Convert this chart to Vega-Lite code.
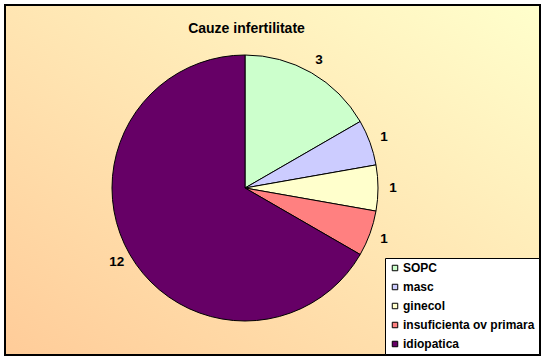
{
  "$schema": "https://vega.github.io/schema/vega-lite/v6.json",
  "width": 535,
  "height": 350,
  "autosize": {"type": "none"},
  "padding": {"left": 5, "top": 5, "right": 7, "bottom": 6},
  "background": "white",
  "title": {
    "text": "Cauze infertilitate",
    "font": "Liberation Sans",
    "fontSize": 14,
    "fontWeight": "bold",
    "color": "black",
    "anchor": "middle",
    "frame": "group",
    "orient": "top",
    "baseline": "alphabetic",
    "offset": 0,
    "dx": -26,
    "dy": 43
  },
  "config": {"view": {"stroke": null}},
  "layer": [
    {
      "data": {"values": [{"frame": "chart"}]},
      "mark": {
        "type": "rect",
        "stroke": "black",
        "strokeWidth": 2,
        "color": {
          "gradient": "linear",
          "x1": 0, "y1": 1, "x2": 1, "y2": 0,
          "stops": [
            {"offset": 0, "color": "#FFCC99"},
            {"offset": 1, "color": "#FFFFCC"}
          ]
        }
      },
      "encoding": {}
    },
    {
      "data": {"values": [
        {"cause": "SOPC", "value": 3, "order": 1},
        {"cause": "masc", "value": 1, "order": 2},
        {"cause": "ginecol", "value": 1, "order": 3},
        {"cause": "insuficienta ov primara", "value": 1, "order": 4},
        {"cause": "idiopatica", "value": 12, "order": 5}
      ]},
      "layer": [
        {
          "mark": {"type": "arc", "x": 240, "y": 183, "outerRadius": 133, "stroke": "black", "strokeWidth": 1},
          "encoding": {
            "theta": {"field": "value", "type": "quantitative", "stack": true},
            "order": {"field": "order", "type": "quantitative"},
            "color": {
              "field": "cause",
              "type": "nominal",
              "sort": null,
              "scale": {
                "domain": ["SOPC", "masc", "ginecol", "insuficienta ov primara", "idiopatica"],
                "range": ["#CCFFCC", "#CCCCFF", "#FFFFCC", "#FF8080", "#660066"]
              },
              "legend": {
                "title": null,
                "orient": "none",
                "legendX": 380,
                "legendY": 253,
                "direction": "vertical",
                "fillColor": "white",
                "strokeColor": "black",
                "padding": 4,
                "symbolType": "square",
                "symbolSize": 30,
                "symbolStrokeColor": "black",
                "symbolStrokeWidth": 1,
                "labelFont": "Liberation Sans",
                "labelFontSize": 12,
                "labelFontWeight": "bold",
                "labelColor": "black",
                "labelOffset": 2,
                "labelLimit": 200,
                "rowPadding": 7
              }
            }
          }
        },
        {
          "mark": {"type": "text", "x": 240, "y": 183, "radius": 148, "font": "Liberation Sans", "fontSize": 13.5, "fontWeight": "bold", "color": "black"},
          "encoding": {
            "theta": {"field": "value", "type": "quantitative", "stack": true},
            "order": {"field": "order", "type": "quantitative"},
            "text": {"field": "value", "type": "quantitative"}
          }
        }
      ]
    }
  ]
}
